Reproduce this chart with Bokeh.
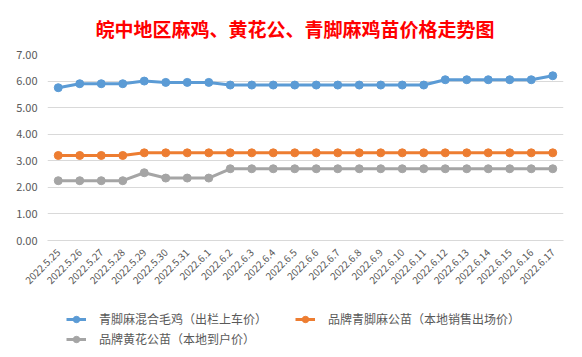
import math
from bokeh.plotting import figure
from bokeh.layouts import column
from bokeh.models import (ColumnDataSource, FactorRange, Range1d, FixedTicker, Legend, LegendItem,
                          NumeralTickFormatter)
from bokeh.embed import file_html
from bokeh.resources import INLINE

title_text = "皖中地区麻鸡、黄花公、青脚麻鸡苗价格走势图"
dates = ["2022.5.25", "2022.5.26", "2022.5.27", "2022.5.28", "2022.5.29", "2022.5.30", "2022.5.31",
         "2022.6.1", "2022.6.2", "2022.6.3", "2022.6.4", "2022.6.5", "2022.6.6", "2022.6.7", "2022.6.8",
         "2022.6.9", "2022.6.10", "2022.6.11", "2022.6.12", "2022.6.13", "2022.6.14", "2022.6.15",
         "2022.6.16", "2022.6.17"]
qingjiao_mixed = [5.75, 5.9, 5.9, 5.9, 6.0, 5.95, 5.95, 5.95, 5.85, 5.85, 5.85, 5.85, 5.85, 5.85, 5.85,
                  5.85, 5.85, 5.85, 6.05, 6.05, 6.05, 6.05, 6.05, 6.2]
brand_qingjiao_male = [3.2, 3.2, 3.2, 3.2, 3.3, 3.3, 3.3, 3.3, 3.3, 3.3, 3.3, 3.3, 3.3, 3.3, 3.3,
                       3.3, 3.3, 3.3, 3.3, 3.3, 3.3, 3.3, 3.3, 3.3]
brand_yellow_male = [2.25, 2.25, 2.25, 2.25, 2.55, 2.35, 2.35, 2.35, 2.7, 2.7, 2.7, 2.7, 2.7, 2.7, 2.7,
                     2.7, 2.7, 2.7, 2.7, 2.7, 2.7, 2.7, 2.7, 2.7]
series_names = ["青脚麻混合毛鸡（出栏上车价）", "品牌青脚麻公苗（本地销售出场价）", "品牌黄花公苗（本地到户价）"]
y_ticks = [0, 1, 2, 3, 4, 5, 6, 7]

colors = ["#5B9BD5", "#ED7D31", "#A5A5A5"]
FONT = "Noto Sans CJK SC"
TXT = "#595959"

p = figure(width=575, height=306, x_range=FactorRange(*dates, range_padding=0),
           y_range=Range1d(0, 7), output_backend="svg", toolbar_location=None,
           min_border_left=47, min_border_right=12, min_border_top=53, min_border_bottom=66)
p.outline_line_color = None
p.background_fill_color = "white"
p.border_fill_color = "white"

p.title.text = title_text
p.title.align = "left"
p.title.offset = 48
p.title.standoff = 25
p.title.text_font = FONT
p.title.text_font_size = "19px"
p.title.text_font_style = "bold"
p.title.text_color = "#FF0000"

p.xgrid.grid_line_color = None
p.ygrid.grid_line_color = "#D9D9D9"
p.ygrid.grid_line_width = 1

p.yaxis.ticker = FixedTicker(ticks=y_ticks)
p.yaxis.formatter = NumeralTickFormatter(format="0.00")
p.yaxis.axis_line_color = None
p.yaxis.major_tick_line_color = None
p.yaxis.minor_tick_line_color = None
p.yaxis.major_label_standoff = 4
p.yaxis.major_label_text_font = FONT
p.yaxis.major_label_text_font_size = "11px"
p.yaxis.major_label_text_color = TXT

p.xaxis.axis_line_color = "#D9D9D9"
p.xaxis.major_tick_line_color = None
p.xaxis.minor_tick_line_color = None
p.xaxis.major_label_orientation = math.pi / 4
p.xaxis.major_label_standoff = 4
p.xaxis.major_label_text_font = FONT
p.xaxis.major_label_text_font_size = "10px"
p.xaxis.major_label_text_color = TXT

src = ColumnDataSource(dict(x=dates, a=qingjiao_mixed, b=brand_qingjiao_male, c=brand_yellow_male))
for col, color in zip(["a", "b", "c"], colors):
    p.line("x", col, source=src, line_color=color, line_width=3)
    p.scatter("x", col, source=src, size=8, fill_color=color, line_color=color)

# legend strip below the chart (its renderers' data lie outside its 0..1 ranges, so only the legend shows)
lf = figure(width=575, height=51, x_range=Range1d(0, 1), y_range=Range1d(0, 1), output_backend="svg",
            toolbar_location=None, min_border=0, min_border_left=0, min_border_right=0,
            min_border_top=0, min_border_bottom=0)
lf.axis.visible = False
lf.grid.visible = False
lf.outline_line_color = None
lf.border_fill_color = "white"
lf.background_fill_color = "white"

idx = list(range(len(dates)))
positions = [(19, 30), (248, 30), (19, 10)]
for series, color, name, loc in zip([qingjiao_mixed, brand_qingjiao_male, brand_yellow_male],
                                    colors, series_names, positions):
    lsrc = ColumnDataSource(dict(x=idx, y=series))
    lr = lf.line("x", "y", source=lsrc, line_color=color, line_width=3)
    sr = lf.scatter("x", "y", source=lsrc, size=8, fill_color=color, line_color=color)
    lg = Legend(items=[LegendItem(label=name, renderers=[lr, sr])], location=loc, orientation="horizontal",
                padding=0, margin=0, spacing=0, border_line_color=None, background_fill_alpha=0,
                glyph_width=20, glyph_height=16, label_height=16, label_standoff=13,
                label_text_font=FONT, label_text_font_size="12px", label_text_color=TXT)
    lf.add_layout(lg, "center")

layout = column(p, lf, spacing=0)
open("out.html", "w").write(file_html(layout, INLINE))
